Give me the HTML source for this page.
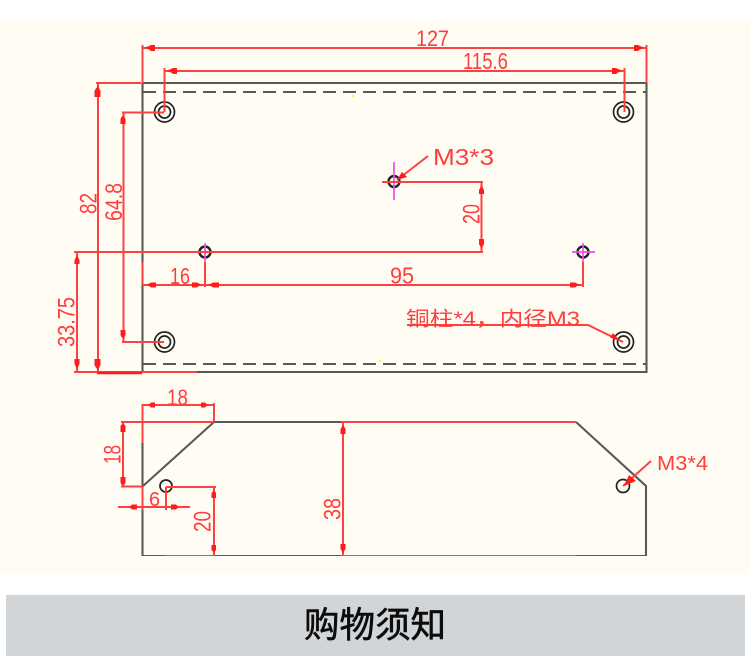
<!DOCTYPE html>
<html><head><meta charset="utf-8">
<style>
html,body{margin:0;padding:0;background:#fff;width:750px;height:661px;overflow:hidden}
svg{display:block}
.r{stroke:#ff4040;stroke-width:2;fill:none}
.k{stroke:#585854;stroke-width:2.100;fill:none}
.c{stroke:#222;stroke-width:1.700;fill:none}
.m{stroke:#f04cf0;stroke-width:1.700;fill:none}
.t{fill:#ff3c3c;font-family:"Liberation Sans","Noto Sans CJK SC",sans-serif;font-size:23px}
.a{fill:#ff1c1c;stroke:none}
</style></head><body>
<svg width="750" height="661" viewBox="0 0 750 661" xmlns="http://www.w3.org/2000/svg">
<defs><filter id="b" x="0" y="0" width="100%" height="100%"><feGaussianBlur stdDeviation="0.35"/></filter></defs>
<rect x="0" y="20" width="750" height="554" fill="#fffdf3"/>
<rect x="6" y="595" width="739" height="61" fill="#d1d5d8"/>
<text x="375" y="637" text-anchor="middle" font-size="35.500" fill="#0c0c0c" stroke="#0c0c0c" stroke-width="0.600" font-family="'Liberation Sans','Noto Sans CJK SC',sans-serif">购物须知</text>

<g filter="url(#b)">
<!-- top view outline -->
<path class="k" d="M142.500 83H646.500V373M142.500 83V372M197 372H646.500"/>
<path class="k" stroke-dasharray="13 7" d="M143 92H646M143 364H646"/>
<g class="c">
<circle cx="164.500" cy="112" r="10"/><circle cx="164.500" cy="112" r="6"/>
<circle cx="623.500" cy="112" r="10"/><circle cx="623.500" cy="112" r="6"/>
<circle cx="164.500" cy="342" r="10"/><circle cx="164.500" cy="342" r="6"/>
<circle cx="623.500" cy="342" r="10"/><circle cx="623.500" cy="342" r="6"/>
<circle cx="205" cy="252" r="5.500" stroke-width="2.400"/>
<circle cx="583" cy="252" r="5.500" stroke-width="2.400"/>
<circle cx="394" cy="181.500" r="5.500" stroke-width="2.400"/>
</g>
<path class="m" d="M205 243V262M583 243V262M572 252H595M394 162V200"/>
<circle cx="353" cy="96" r="1" fill="#f6f02a"/>
<circle cx="380" cy="361" r="1" fill="#f6f02a"/>

<!-- top view dimensions -->
<path class="r" d="M142.500 45V83M646.500 45V83M142.500 48H646.500"/>
<path class="r" d="M164.500 68V112M624.500 68V112M164.500 71H624.500"/>
<path class="r" d="M96 83H141M98 83V372M122 112.500H164M123.500 112.500V342M122 342H164"/>
<path class="r" d="M74 252H483M74 372H197M77 252V372"/>
<path d="M97 373H142" stroke="#ff1a1a" stroke-width="2.600" fill="none"/>
<path class="r" d="M142.500 262V285M142.500 285H583M205 262V287M583 262V287"/>
<path class="r" d="M382 182H483M481.500 182V252M428 156L397 180"/>
<path class="r" d="M407 325H588L623 342"/>
<g class="a">
<path d="M145 47.500l4-1.500 2-1h4v6h-4l-2-1.500zM644 47.500l-4-1.500-2-1h-4v6h4l2-1.500z"/>
<path d="M167 70.500l4-1.500 2-1h4v6h-4l-2-1.500zM622 70.500l-4-1.500-2-1h-4v6h4l2-1.500z"/>
<path d="M98 86l1.500 3 1 2v6h-6v-6l1-2zM98 370l1.500-3 1-2v-6h-6v6l1 2z"/>
<path d="M123.500 115l1 2 1 2v5h-5v-5l1-2zM123.500 339l1-2 1-2v-5h-5v5l1 2z"/>
<path d="M77 255l1.500 3 1 2v4h-5v-4l1-2zM77 369l1.500-3 1-2v-5h-5v5l1 2z"/>
<path d="M146 285l3-1.500 2-1h5v5h-5l-2-1.500zM202 285l-3-1.500-2-1h-5v5h5l2-1.500z"/>
<path d="M208 285l3-1.500 2-1h6v5h-6l-2-1.500zM580 285l-3-1.500-2-1h-5v5h5l2-1.500z"/>
<path d="M481.500 249l-1.500-3-1-2v-5h5v5l-1 2zM481.500 185l-1.500 3-1 2v4h5v-4l-1-2z"/>
<path d="M397 180l5-8 5 5z"/>
<path d="M620 341l-10-3.500 3-4.500z"/>
</g>
<g class="t">
<text x="416" y="46" font-size="22" textLength="33" lengthAdjust="spacingAndGlyphs">127</text>
<text x="463" y="69" textLength="45" lengthAdjust="spacingAndGlyphs">115.6</text>
<text x="433" y="165" textLength="61" lengthAdjust="spacingAndGlyphs">M3*3</text>
<text x="170" y="284" textLength="20" lengthAdjust="spacingAndGlyphs">16</text>
<text x="390" y="283.500" textLength="24" lengthAdjust="spacingAndGlyphs">95</text>
<text x="406" y="325.500" font-size="20" textLength="174" lengthAdjust="spacingAndGlyphs">铜柱*4，内径M3</text>
<text x="657" y="470" font-size="20" textLength="51" lengthAdjust="spacingAndGlyphs">M3*4</text>
<text x="167" y="405" font-size="22" textLength="21" lengthAdjust="spacingAndGlyphs">18</text>
<text x="149" y="506" font-size="20" textLength="11" lengthAdjust="spacingAndGlyphs">6</text>
<text transform="translate(96.500 214) rotate(-90)" font-size="24" textLength="21" lengthAdjust="spacingAndGlyphs">82</text>
<text transform="translate(122 221) rotate(-90)" font-size="24" textLength="38" lengthAdjust="spacingAndGlyphs">64.8</text>
<text transform="translate(74.500 347) rotate(-90)" font-size="24" textLength="50" lengthAdjust="spacingAndGlyphs">33.75</text>
<text transform="translate(479.500 224) rotate(-90)" font-size="24" textLength="20" lengthAdjust="spacingAndGlyphs">20</text>
<text transform="translate(120.500 464) rotate(-90)" font-size="24" textLength="19" lengthAdjust="spacingAndGlyphs">18</text>
<text transform="translate(210.500 532) rotate(-90)" font-size="24" textLength="21" lengthAdjust="spacingAndGlyphs">20</text>
<text transform="translate(340.500 520) rotate(-90)" font-size="24" textLength="22" lengthAdjust="spacingAndGlyphs">38</text>
</g>

<!-- lower view -->
<path class="k" d="M142.500 443V486M142.500 510V556H165M214 422H341M214 422L143 486M215 556H341M576 422L646 486V556H576"/>
<circle class="c" cx="166" cy="486" r="6" stroke-width="2"/>
<circle class="c" cx="623" cy="486" r="6.500" stroke-width="2"/>
<path class="r" d="M142.500 404V443M142.500 486V510M142.500 405H214M214 403V422M121 422H214M121 486.500H143M123 422V486.500M118 507H190M166 487V510M166 487H216M214 487V556M165 556H215M343 422V556M341 422H576M341 556H576M651 461L623 486"/>
<g class="a">
<path d="M148 405l2-1.500 1-1h4v5h-4l-1-1zM208 405l-2-1.500-1-1h-4v5h4l1-1z"/>
<path d="M123 425l1-1 1.500 2v6h-5v-6l1.500-2zM123 484l1 1 1.500-2v-6h-5v6l1.500 2z"/>
<path d="M129 507l2-1.500 1-1h5v5h-5l-1-1zM179 507l-2-1.500-1-1h-5v5h5l1-1z"/>
<path d="M214 490l2 3v5h-4.500v-5zM214 553l2-3v-5h-4.500v5z"/>
<path d="M343 425l2.500 4v5h-5v-5zM343 553l2.500-4v-5h-5v5z"/>
<path d="M624 486l5-11 7 6z"/>
</g>
</g>
</svg>
</body></html>
